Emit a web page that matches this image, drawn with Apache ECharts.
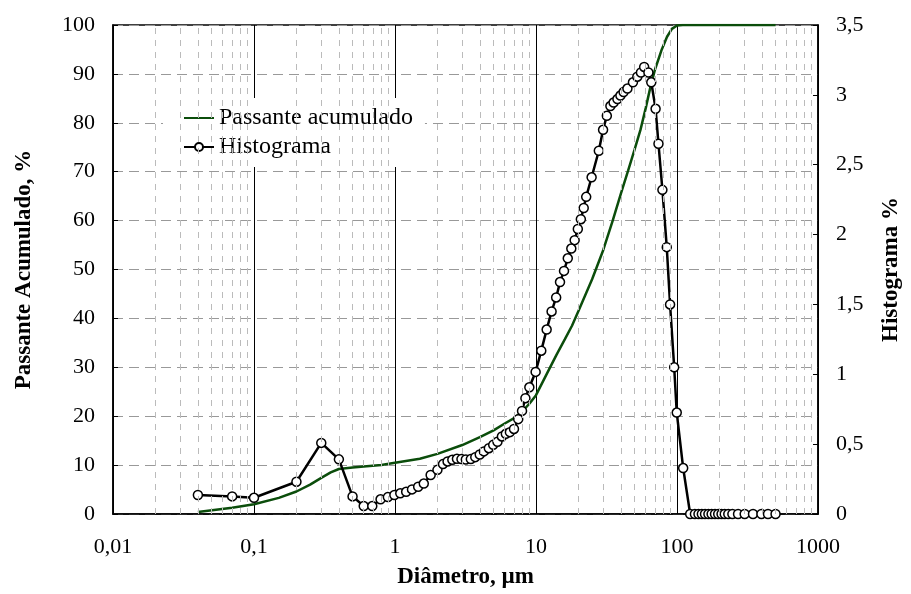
<!DOCTYPE html>
<html>
<head>
<meta charset="utf-8">
<script src="https://cdn.jsdelivr.net/npm/echarts@6/dist/echarts.min.js"></script>
<style>
html,body{margin:0;padding:0;background:#fff;}
#c{width:911px;height:594px;}
</style>
</head>
<body>
<div id="c"></div>
<script>
// Histogram (right axis, %)
var histX = [0.04, 0.07, 0.1, 0.2, 0.3, 0.4, 0.5, 0.6, 0.69, 0.79, 0.89, 0.99, 1.09, 1.2, 1.32, 1.46, 1.6, 1.79, 2.0, 2.19, 2.36, 2.55, 2.75, 2.96, 3.18, 3.45, 3.71, 3.99, 4.27, 4.63, 4.97, 5.33, 5.73, 6.11, 6.53, 6.98, 7.48, 7.96, 8.41, 8.97, 9.94, 10.9, 11.9, 12.9, 13.9, 14.8, 15.8, 16.8, 17.8, 18.8, 19.8, 20.8, 21.8, 22.7, 24.8, 27.9, 29.9, 31.8, 33.7, 35.5, 37.8, 39.7, 41.8, 44.5, 48.7, 52.3, 55.5, 58.5, 62.7, 65.7, 70.5, 73.9, 78.8, 84.6, 89.3, 95.5, 99.6, 110.6, 124, 134, 142, 150, 158, 167, 176, 186, 196, 207, 218, 231, 247, 271, 302, 346, 397, 442, 500];
var histY = [0.136, 0.126, 0.116, 0.231, 0.509, 0.391, 0.126, 0.057, 0.057, 0.105, 0.121, 0.136, 0.148, 0.159, 0.176, 0.195, 0.218, 0.279, 0.316, 0.357, 0.376, 0.388, 0.395, 0.393, 0.39, 0.393, 0.407, 0.426, 0.448, 0.471, 0.495, 0.517, 0.555, 0.574, 0.586, 0.609, 0.679, 0.738, 0.829, 0.907, 1.017, 1.169, 1.32, 1.45, 1.55, 1.66, 1.74, 1.83, 1.9, 1.96, 2.04, 2.11, 2.19, 2.27, 2.41, 2.6, 2.75, 2.85, 2.92, 2.945, 2.97, 2.995, 3.02, 3.045, 3.09, 3.13, 3.16, 3.2, 3.16, 3.09, 2.9, 2.65, 2.32, 1.91, 1.5, 1.05, 0.726, 0.329, 0, 0, 0, 0, 0, 0, 0, 0, 0, 0, 0, 0, 0, 0, 0, 0, 0, 0, 0];

// Cumulative passing (left axis, %)
var cumX = [0.04, 0.07, 0.1, 0.15, 0.2, 0.25, 0.3, 0.35, 0.4, 0.5, 0.6, 0.8, 1, 1.5, 2, 3, 4, 5, 6, 7, 8, 9, 10, 12, 14, 16, 18, 20, 25, 30, 35, 40, 45, 50, 55, 60, 65, 70, 78, 85, 92, 100, 110, 150, 200, 300, 500];
var cumY = [0.4, 1.3, 2.0, 3.3, 4.6, 6.0, 7.4, 8.5, 9.2, 9.5, 9.7, 10.0, 10.5, 11.3, 12.3, 14.1, 15.7, 17.1, 18.5, 19.6, 21.0, 22.6, 24.3, 28.8, 32.6, 35.7, 38.5, 41.5, 48, 54, 60, 65.5, 70.2, 74.5, 78.5, 83, 87.5, 91, 95, 97.6, 99.2, 99.9, 100, 100, 100, 100, 100];

// Axis tick labels
var xTickLabels = ['0,01', '0,1', '1', '10', '100', '1000'];
var leftTicks = [0, 10, 20, 30, 40, 50, 60, 70, 80, 90, 100];
var rightTicks = ['0', '0,5', '1', '1,5', '2', '2,5', '3', '3,5'];

var font = 'Liberation Serif';

var minorLines = [];
for (var d = -2; d < 3; d++) {
  for (var k = 2; k <= 9; k++) {
    minorLines.push({ xAxis: k * Math.pow(10, d) });
  }
}

function pairs(xs, ys) {
  return xs.map(function (x, i) { return [x, ys[i]]; });
}

var chart = echarts.init(document.getElementById('c'), null, { renderer: 'canvas' });
chart.setOption({
  animation: false,
  backgroundColor: '#fff',
  grid: {
    left: 113, right: 89, top: 25, bottom: 79,
    show: true, borderColor: '#000', borderWidth: 1.5, backgroundColor: 'transparent'
  },
  legend: {
    left: 163, top: 98,
    orient: 'vertical',
    padding: [8, 12, 8, 20],
    backgroundColor: '#fff',
    itemWidth: 30, itemHeight: 10, itemGap: 5,
    textStyle: { fontFamily: font, fontSize: 24, lineHeight: 24, color: '#000' },
    data: [
      { name: 'Passante acumulado', itemStyle: { opacity: 0 } },
      { name: 'Histograma' }
    ]
  },
  xAxis: {
    type: 'log', logBase: 10, min: 0.01, max: 1000,
    axisLine: { lineStyle: { color: '#000', width: 1.5 } },
    axisTick: { show: false },
    axisLabel: {
      margin: 22, fontFamily: font, fontSize: 22, color: '#000',
      formatter: function (v) {
        var e = Math.round(Math.log10(v));
        return xTickLabels[e + 2];
      }
    },
    splitLine: { show: true, lineStyle: { color: '#000', width: 1, type: 'solid' } },
    name: 'Diâmetro, µm', nameLocation: 'middle', nameGap: 52,
    nameTextStyle: { fontFamily: font, fontSize: 23, fontWeight: 'bold', color: '#000' }
  },
  yAxis: [
    {
      type: 'value', min: 0, max: 100, interval: 10,
      axisLine: { show: true, lineStyle: { color: '#000', width: 1.5 } },
      axisTick: { show: true, inside: true, length: 5, lineStyle: { color: '#000' } },
      axisLabel: {
        margin: 18, fontFamily: font, fontSize: 22, color: '#000',
        formatter: function (v) { return String(leftTicks[Math.round(v / 10)]); }
      },
      splitLine: { show: true, lineStyle: { color: '#999', width: 1, type: [10, 6] } },
      name: 'Passante Acumulado, %', nameLocation: 'middle', nameGap: 77, nameRotate: 90,
      nameTextStyle: { fontFamily: font, fontSize: 23, fontWeight: 'bold', color: '#000' }
    },
    {
      type: 'value', min: 0, max: 3.5, interval: 0.5, position: 'right',
      axisLine: { show: true, lineStyle: { color: '#000', width: 1.5 } },
      axisTick: { show: true, inside: true, length: 5, lineStyle: { color: '#000' } },
      axisLabel: {
        margin: 18, fontFamily: font, fontSize: 22, color: '#000',
        formatter: function (v) { return rightTicks[Math.round(v / 0.5)]; }
      },
      splitLine: { show: false },
      name: 'Histograma %', nameLocation: 'middle', nameGap: 62, nameRotate: 90,
      nameTextStyle: { fontFamily: font, fontSize: 23, fontWeight: 'bold', color: '#000' }
    }
  ],
  series: [
    {
      name: 'minor', type: 'line', data: [], z: 1, silent: true,
      markLine: {
        silent: true, symbol: ['none', 'none'], label: { show: false },
        lineStyle: { color: '#bbb', width: 1, type: [6, 6] },
        emphasis: { disabled: true },
        data: minorLines
      }
    },
    {
      name: 'Passante acumulado', type: 'line', yAxisIndex: 0, z: 3,
      data: pairs(cumX, cumY),
      showSymbol: false, symbol: 'none', smooth: false,
      lineStyle: { color: '#0b4d0b', width: 2.5 },
      itemStyle: { color: '#0b4d0b' }
    },
    {
      name: 'Histograma', type: 'line', yAxisIndex: 1, z: 4,
      data: pairs(histX, histY),
      symbol: 'circle', symbolSize: 9,
      lineStyle: { color: '#000', width: 2.5 },
      itemStyle: { color: '#fff', borderColor: '#000', borderWidth: 1.5 }
    }
  ]
});
</script>
</body>
</html>
